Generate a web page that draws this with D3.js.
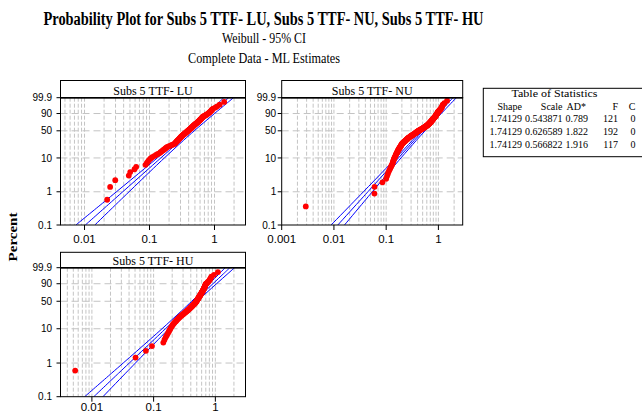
<!DOCTYPE html>
<html><head><meta charset="utf-8">
<script src="https://cdn.jsdelivr.net/npm/d3@7"></script>
<style>body{margin:0;background:#fff}svg{display:block}</style>
</head><body><svg id="c" width="642" height="414"></svg>
<script>
// ---------- data ----------
const seriesNames = ["Subs 5 TTF- LU", "Subs 5 TTF- NU", "Subs 5 TTF- HU"];
const shapeEst = ["1.74129", "1.74129", "1.74129"];
const scaleEst = ["0.543871", "0.626589", "0.566822"];
const adStat = ["0.789", "1.822", "1.916"];
const failures = ["121", "192", "117"];
const censored = ["0", "0", "0"];

const ttfLU = [0.0223,0.0248,0.0297,0.048,0.0505,0.0588,0.0624,
0.0867,0.091,0.095,0.099,0.104,
0.110,0.118,0.126,0.134,0.143,
0.148,0.154,0.160,0.166,0.172,0.177,0.183,0.189,
0.200,0.211,0.221,0.232,0.243,
0.247,0.251,0.256,0.260,0.264,0.269,0.273,0.277,0.282,0.286,0.290,0.295,0.299,0.303,0.307,0.312,0.316,0.320,0.325,
0.331,0.336,0.342,0.347,0.353,0.358,0.364,0.369,0.374,0.380,0.385,0.391,0.396,0.402,0.407,0.413,0.418,0.424,0.429,0.435,0.440,0.446,0.451,0.457,0.462,0.468,0.473,0.479,0.484,0.490,
0.497,0.505,0.512,0.519,0.527,0.534,0.541,0.549,0.556,0.563,0.570,0.578,0.585,0.592,0.600,0.607,0.614,0.622,0.629,0.636,0.643,0.651,0.658,
0.670,0.690,0.709,0.728,0.748,0.767,0.787,0.806,0.825,0.845,0.864,0.884,0.903,0.922,
0.955,1.03,1.10,1.20,1.41];

const ttfNU = [0.00289,0.0596,0.0600,0.0848,0.100,0.104,
0.108,0.112,0.116,0.120,0.124,0.127,0.131,
0.133,0.135,0.137,0.139,0.141,0.143,0.145,0.148,0.150,0.152,0.154,0.156,0.158,0.160,0.162,
0.164,0.166,0.168,0.170,0.172,0.174,0.176,0.178,0.180,0.183,0.185,0.187,0.189,0.191,0.193,0.195,0.197,0.199,0.201,0.203,
0.206,0.209,0.213,0.216,0.219,0.223,0.226,0.230,0.233,0.236,0.240,0.243,0.247,0.250,0.253,0.257,0.260,0.263,0.267,0.270,
0.275,0.280,0.285,0.290,0.296,0.301,0.306,0.311,0.316,0.321,0.326,0.331,0.336,0.341,0.346,0.351,0.357,0.362,0.367,0.372,0.377,0.382,0.387,0.392,0.397,0.402,0.407,
0.413,0.420,0.428,0.435,0.442,0.450,0.457,0.464,0.472,0.479,0.486,0.494,0.501,0.508,0.516,0.523,0.530,0.538,0.545,0.552,0.560,0.567,0.574,0.582,0.589,0.596,0.604,0.611,0.618,
0.625,0.631,0.637,0.643,0.649,0.655,0.661,0.667,0.672,0.678,0.684,0.690,0.696,0.702,0.708,0.714,0.720,0.726,0.732,0.738,0.744,0.750,0.756,0.762,0.768,0.774,0.780,0.786,0.792,0.798,0.804,
0.811,0.819,0.827,0.835,0.842,0.850,0.858,0.866,0.873,0.881,0.889,0.897,0.904,0.912,0.920,0.928,0.935,0.943,0.951,0.959,0.966,0.974,0.982,
0.994,1.014,1.034,1.054,1.074,1.094,1.114,1.134,1.154,1.174,1.194,1.214,
1.30,1.466];

const ttfHU = [0.00536,0.0510,0.075,0.094,0.1436,
0.150,0.157,0.164,
0.170,0.176,0.181,0.186,0.191,0.197,0.202,
0.207,0.214,0.220,0.227,0.233,0.240,0.246,0.252,0.259,0.265,
0.273,0.281,0.289,0.296,0.304,0.312,0.320,0.328,0.335,0.343,0.351,0.359,
0.366,0.373,0.379,0.386,0.392,0.399,0.405,0.412,0.418,0.425,0.431,0.438,0.444,0.451,0.457,0.464,0.470,
0.476,0.480,0.484,0.489,0.493,0.497,0.501,0.506,0.510,0.514,0.518,0.523,0.527,0.531,0.535,0.540,0.544,0.548,0.552,0.557,0.561,0.565,0.569,
0.574,0.578,0.583,0.588,0.592,0.597,0.602,0.606,0.611,0.615,0.620,0.625,0.629,0.634,0.638,0.643,0.648,0.652,0.657,0.661,0.666,0.671,0.675,0.680,0.684,0.689,0.694,0.698,
0.710,0.727,0.744,0.761,0.778,0.795,0.812,0.829,0.846,
0.865,0.95,1.10];

const yTickPct = [0.1, 1, 10, 50, 90, 99.9];
const yTickLabels = ["0.1", "1", "10", "50", "90", "99.9"];
const yGridPct = [1, 10, 50, 90];
const xTicksLU = [0.01, 0.1, 1];
const xTicksNU = [0.001, 0.01, 0.1, 1];
const xTicksHU = [0.01, 0.1, 1];
const xTickLabelsLU = ["0.01", "0.1", "1"];
const xTickLabelsNU = ["0.001", "0.01", "0.1", "1"];
const xTickLabelsHU = ["0.01", "0.1", "1"];

// 95% CI half-widths (decades of time)
const ciPct = [0.1, 0.5, 1, 5, 10, 30, 50, 70, 90, 99, 99.9];
const ciHalfLU = [0.146, 0.111, 0.097, 0.066, 0.055, 0.044, 0.044, 0.049, 0.057, 0.068, 0.075];
const ciHalfNU = [0.128, 0.098, 0.085, 0.058, 0.048, 0.038, 0.039, 0.043, 0.050, 0.059, 0.066];
const ciHalfHU = [0.148, 0.113, 0.099, 0.067, 0.056, 0.045, 0.045, 0.049, 0.058, 0.069, 0.076];

// ---------- drawing ----------
const svg = d3.select("#c");
const serif = "'Liberation Serif','Times New Roman',serif";
const sans = "'Liberation Sans',Arial,sans-serif";
const Wt = pct => Math.log(-Math.log(1 - pct / 100));

// titles
svg.append("text").attr("x", 263.5).attr("y", 25).attr("text-anchor", "middle")
  .attr("font-family", serif).attr("font-weight", "bold").attr("font-size", 18)
  .attr("textLength", 440).attr("lengthAdjust", "spacingAndGlyphs")
  .text("Probability Plot for Subs 5 TTF- LU, Subs 5 TTF- NU, Subs 5 TTF- HU");
svg.append("text").attr("x", 264).attr("y", 43.3).attr("text-anchor", "middle")
  .attr("font-family", serif).attr("font-size", 15)
  .attr("textLength", 84).attr("lengthAdjust", "spacingAndGlyphs")
  .text("Weibull - 95% CI");
svg.append("text").attr("x", 264).attr("y", 62.5).attr("text-anchor", "middle")
  .attr("font-family", serif).attr("font-size", 15)
  .attr("textLength", 152).attr("lengthAdjust", "spacingAndGlyphs")
  .text("Complete Data - ML Estimates");

svg.append("text").attr("transform", "translate(17,237) scale(0.78,1) rotate(-90)")
  .attr("text-anchor", "middle").attr("font-family", serif).attr("font-weight", "bold")
  .attr("font-size", 15).text("Percent");

const panels = [
  {k: 0, data: ttfLU, ci: ciHalfLU, ticks: xTicksLU, tickLabels: xTickLabelsLU,
   x0: 60.5, x1: 245.5, hTop: 80.5, top: 97.7, bottom: 225, dom: [0.00427, 3], gap: 8.5, lab: 17.5},
  {k: 1, data: ttfNU, ci: ciHalfNU, ticks: xTicksNU, tickLabels: xTickLabelsNU,
   x0: 281.7, x1: 462.7, hTop: 80.5, top: 97.7, bottom: 225, dom: [0.001, 2.92], gap: 5.5, lab: 17.5},
  {k: 2, data: ttfHU, ci: ciHalfHU, ticks: xTicksHU, tickLabels: xTickLabelsHU,
   x0: 60.5, x1: 245.5, hTop: 252.3, top: 267.7, bottom: 396.7, dom: [0.0031, 3.08], gap: 8.5, lab: 14}
];

panels.forEach(p => {
  const g = svg.append("g");
  const x = d3.scaleLog().domain(p.dom).range([p.x0, p.x1]);
  const y = d3.scaleLinear().domain([Wt(0.1), Wt(99.9)]).range([p.bottom, p.top]);
  const clipId = "clip" + p.k;
  svg.append("clipPath").attr("id", clipId).append("rect")
    .attr("x", p.x0).attr("y", p.top).attr("width", p.x1 - p.x0).attr("height", p.bottom - p.top);

  g.append("rect").attr("x", p.x0).attr("y", p.top).attr("width", p.x1 - p.x0)
    .attr("height", p.bottom - p.top).attr("fill", "#fff");

  // vertical grid
  const vg = x.ticks().filter(v => x(v) > p.x0 + 0.8 && x(v) < p.x1 - 0.8);
  g.append("g").selectAll("line").data(vg).join("line")
    .attr("x1", d => x(d)).attr("x2", d => x(d)).attr("y1", p.top).attr("y2", p.bottom)
    .attr("stroke", "#c4c4c4").attr("stroke-width", 1).attr("stroke-dasharray", "4,2");
  // horizontal grid
  g.append("g").selectAll("line").data(yGridPct).join("line")
    .attr("x1", p.x0).attr("x2", p.x1).attr("y1", d => y(Wt(d))).attr("y2", d => y(Wt(d)))
    .attr("stroke", "#c4c4c4").attr("stroke-width", 1).attr("stroke-dasharray", "7,4");

  // fit + CI
  const beta = +shapeEst[p.k], eta = +scaleEst[p.k];
  const tFit = pct => eta * Math.pow(-Math.log(1 - pct / 100), 1 / beta);
  const line = d3.line().x(d => x(d[0])).y(d => y(Wt(d[1]))).curve(d3.curveCatmullRom);
  const fitPts = ciPct.map(q => [tFit(q), q]);
  const lowPts = ciPct.map((q, i) => [tFit(q) / Math.pow(10, p.ci[i]), q]);
  const upPts = ciPct.map((q, i) => [tFit(q) * Math.pow(10, p.ci[i]), q]);
  const cg = g.append("g").attr("clip-path", `url(#${clipId})`);
  [fitPts, lowPts, upPts].forEach(pts => {
    cg.append("path").attr("d", line(pts)).attr("fill", "none")
      .attr("stroke", "#0000ff").attr("stroke-width", 1);
  });

  // data points (median ranks)
  const sorted = p.data.slice().sort((a, b) => a - b);
  const n = sorted.length;
  const pts = sorted.map((t, i) => [t, 100 * (i + 1 - 0.3) / (n + 0.4)]);
  cg.append("g").selectAll("circle").data(pts).join("circle")
    .attr("cx", d => x(d[0])).attr("cy", d => y(Wt(d[1]))).attr("r", 2.9)
    .attr("fill", "#ff0000");

  // frame & header
  g.append("rect").attr("x", p.x0).attr("y", p.hTop).attr("width", p.x1 - p.x0)
    .attr("height", p.top - p.hTop).attr("fill", "#fff").attr("stroke", "#000").attr("stroke-width", 1);
  g.append("rect").attr("x", p.x0).attr("y", p.top).attr("width", p.x1 - p.x0)
    .attr("height", p.bottom - p.top).attr("fill", "none").attr("stroke", "#000").attr("stroke-width", 1);
  g.append("line").attr("x1", p.x0).attr("x2", p.x1).attr("y1", p.top).attr("y2", p.top)
    .attr("stroke", "#000").attr("stroke-width", 1.6);
  g.append("text").attr("x", (p.x0 + p.x1) / 2).attr("y", p.top - 3.2).attr("text-anchor", "middle")
    .attr("font-family", serif).attr("font-size", 12).text(seriesNames[p.k]);

  // y axis ticks
  yTickPct.forEach((q, i) => {
    const yy = y(Wt(q));
    g.append("line").attr("x1", p.x0 - 4).attr("x2", p.x0).attr("y1", yy).attr("y2", yy)
      .attr("stroke", "#000").attr("stroke-width", 1);
    g.append("text").attr("x", p.x0 - p.gap).attr("y", yy + 3.6).attr("text-anchor", "end")
      .attr("font-family", sans).attr("font-size", 10).text(yTickLabels[i]);
  });
  // x axis ticks
  p.ticks.forEach((v, i) => {
    const xx = x(v);
    g.append("line").attr("x1", xx).attr("x2", xx).attr("y1", p.bottom).attr("y2", p.bottom + 5)
      .attr("stroke", "#000").attr("stroke-width", 1);
    g.append("text").attr("x", xx).attr("y", p.bottom + p.lab).attr("text-anchor", "middle")
      .attr("font-family", sans).attr("font-size", 11.5).text(p.tickLabels[i]);
  });
});

// table of statistics
const tg = svg.append("g").attr("font-family", serif).attr("font-size", 10);
tg.append("rect").attr("x", 483.3).attr("y", 88.3).attr("width", 170).attr("height", 68.4)
  .attr("fill", "#fff").attr("stroke", "#000").attr("stroke-width", 1);
tg.append("text").attr("x", 554.5).attr("y", 96.5).attr("text-anchor", "middle").attr("font-size", 10)
  .attr("textLength", 86).attr("lengthAdjust", "spacingAndGlyphs")
  .text("Table of Statistics");
const colRight = [522, 562.5, 588, 618, 635.5];
const header = ["Shape", "Scale", "AD*", "F", "C"];
header.forEach((h, j) => tg.append("text").attr("x", colRight[j] - (j === 2 ? 2 : 0)).attr("y", 109.5)
  .attr("text-anchor", "end").text(h));
const rowY = [121.7, 135, 148.3];
seriesNames.forEach((s, i) => {
  const cells = [shapeEst[i], scaleEst[i], adStat[i], failures[i], censored[i]];
  cells.forEach((c, j) => tg.append("text").attr("x", colRight[j]).attr("y", rowY[i])
    .attr("text-anchor", "end").text(c));
});
</script>
</body></html>
